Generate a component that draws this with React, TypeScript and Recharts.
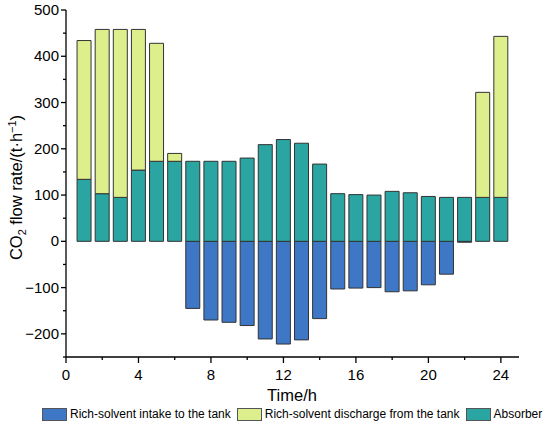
import React from "react";
import { BarChart, Bar, XAxis, YAxis, Legend } from "recharts";

const hours = [1, 2, 3, 4, 5, 6, 7, 8, 9, 10, 11, 12, 13, 14, 15, 16, 17, 18, 19, 20, 21, 22, 23, 24];
const absorber = [134, 103, 95, 154, 173, 173, 173, 173, 173, 180, 209, 220, 212, 167, 103, 101, 100, 108, 105, 97, 95, 95, 95, 95];
const discharge = [300, 355, 363, 304, 255, 17, 0, 0, 0, 0, 0, 0, 0, 0, 0, 0, 0, 0, 0, 0, 0, 0, 227, 348];
const intake = [0, 0, 0, 0, 0, 0, -145, -170, -175, -182, -211, -222, -213, -167, -103, -101, -100, -109, -107, -94, -71, -2, 0, 0];

const xTicks = [0, 2, 4, 6, 8, 10, 12, 14, 16, 18, 20, 22, 24];
const yTicks = [-250, -200, -150, -100, -50, 0, 50, 100, 150, 200, 250, 300, 350, 400, 450, 500];

const seriesNames = {
  intake: "Rich-solvent intake to the tank",
  discharge: "Rich-solvent discharge from the tank",
  absorber: "Absorber",
};
const colors = { intake: "#3f77c7", discharge: "#dcef8c", absorber: "#2aa5a2" };

const data = hours.map((h, i) => ({
  hour: h,
  intake: intake[i],
  absorber: absorber[i],
  discharge: discharge[i],
}));

const FONT = "'Liberation Sans', Arial, sans-serif";

const XTick = (props: any) => {
  const { x, y, payload } = props;
  const axisY = y - 8;
  const major = payload.value % 4 === 0;
  return (
    <g>
      <line x1={x} x2={x} y1={axisY} y2={axisY + (major ? 6 : 3)} stroke="#000" strokeWidth={1.3} />
      {major && (
        <text x={x} y={axisY + 23} textAnchor="middle" fontSize={15} fontFamily={FONT} fill="#000">
          {payload.value}
        </text>
      )}
    </g>
  );
};

const YTick = (props: any) => {
  const { x, y, payload } = props;
  const axisX = x + 8;
  const v = payload.value;
  const major = v % 100 === 0;
  return (
    <g>
      <line x1={axisX - (major ? 5 : 3)} x2={axisX} y1={y} y2={y} stroke="#000" strokeWidth={1.3} />
      {major && (
        <text x={axisX - 7} y={y + 5} textAnchor="end" fontSize={15} fontFamily={FONT} fill="#000">
          {v < 0 ? "\u2212" + Math.abs(v) : v}
        </text>
      )}
    </g>
  );
};

const YLabel = (props: any) => {
  const vb = props.viewBox || {};
  const cy = vb.y + vb.height / 2 + 4;
  const cx = 22;
  return (
    <text
      x={cx}
      y={cy}
      transform={`rotate(-90, ${cx}, ${cy})`}
      textAnchor="middle"
      fontSize={16.5}
      fontFamily={FONT}
      fill="#000"
    >
      CO
      <tspan fontSize={11} dy={4}>2</tspan>
      <tspan dy={-4}> flow rate/(t·h</tspan>
      <tspan fontSize={11} dy={-6}>{"\u22121"}</tspan>
      <tspan dy={6}>)</tspan>
    </text>
  );
};

const XLabel = () => (
  <text x={292} y={401} textAnchor="middle" fontSize={16.5} fontFamily={FONT} fill="#000">
    Time/h
  </text>
);

const legendOrder: ("intake" | "discharge" | "absorber")[] = ["intake", "discharge", "absorber"];

const LegendContent = () => (
  <div style={{ height: 24, position: "relative", fontFamily: FONT, fontSize: 12, color: "#000" }}>
    <div style={{ position: "absolute", left: 42, top: 8, display: "flex", alignItems: "center", whiteSpace: "nowrap" }}>
      {legendOrder.map((k) => (
        <div key={k} style={{ display: "flex", alignItems: "center", marginRight: 6 }}>
          <span
            style={{
              display: "inline-block",
              width: 23,
              height: 11,
              background: colors[k],
              border: "1px solid #555",
              marginRight: 3,
            }}
          />
          <span>{seriesNames[k]}</span>
        </div>
      ))}
    </div>
  </div>
);

export default function App() {
  return (
    <div style={{ position: "absolute", left: 0, top: 0, width: 550, height: 423, background: "#fff" }}>
      <BarChart
        width={550}
        height={423}
        data={data}
        stackOffset="sign"
        margin={{ top: 10, right: 31, left: 0, bottom: 0 }}
      >
        <XAxis
          dataKey="hour"
          type="number"
          domain={[0, 25]}
          ticks={xTicks}
          interval={0}
          height={42}
          tickSize={6}
          tickMargin={2}
          tickLine={false}
          tick={<XTick />}
          axisLine={{ stroke: "#000", strokeWidth: 1.3 }}
          label={{ content: <XLabel /> } as any}
          allowDataOverflow
        />
        <YAxis
          type="number"
          domain={[-250, 500]}
          ticks={yTicks}
          interval={0}
          width={66}
          tickSize={6}
          tickMargin={2}
          tickLine={false}
          tick={<YTick />}
          axisLine={{ stroke: "#000", strokeWidth: 1.3 }}
          label={{ content: <YLabel /> } as any}
          allowDataOverflow
        />
        <Legend verticalAlign="bottom" content={<LegendContent />} />
        <Bar dataKey="intake" name={seriesNames.intake} stackId="a" fill={colors.intake} stroke="#333" strokeWidth={1} barSize={14} isAnimationActive={false} />
        <Bar dataKey="absorber" name={seriesNames.absorber} stackId="a" fill={colors.absorber} stroke="#333" strokeWidth={1} barSize={14} isAnimationActive={false} />
        <Bar dataKey="discharge" name={seriesNames.discharge} stackId="a" fill={colors.discharge} stroke="#333" strokeWidth={1} barSize={14} isAnimationActive={false} />
      </BarChart>
    </div>
  );
}
